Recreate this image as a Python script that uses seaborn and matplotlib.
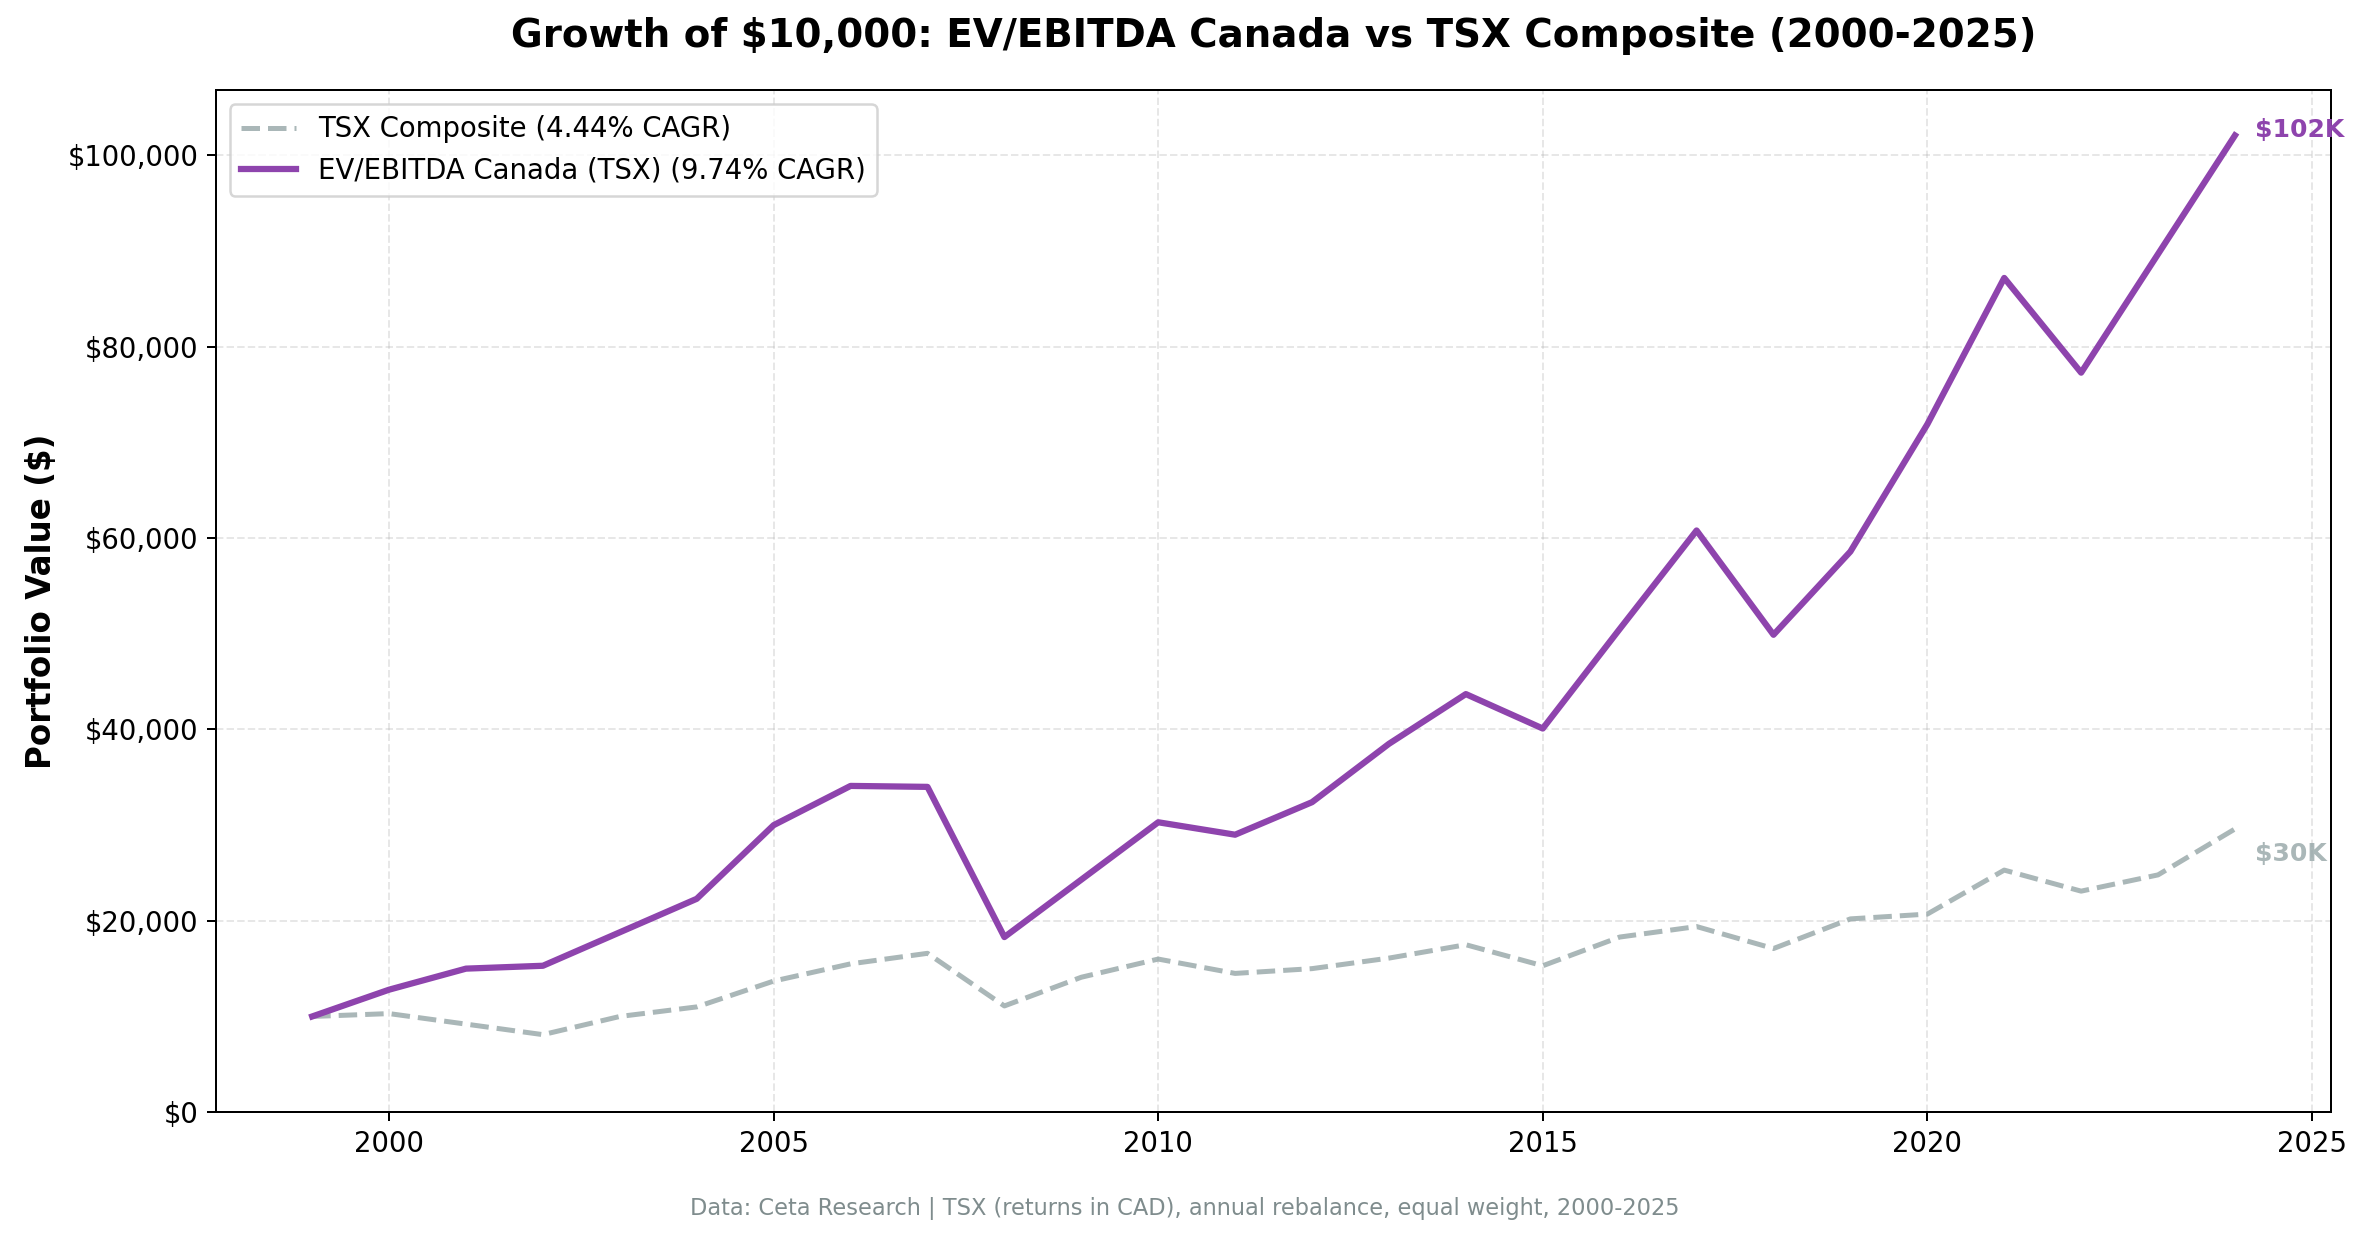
import matplotlib
matplotlib.use("Agg")
import matplotlib.pyplot as plt
import seaborn as sns
import pandas as pd

years = list(range(1999, 2025))
strategy = [10000, 12800, 15000, 15300, 18800, 22300, 30000, 34100, 34000, 18300,
            24300, 30300, 29000, 32400, 38500, 43700, 40100, 50500, 60800, 49900,
            58600, 71900, 87200, 77300, 89700, 102100]
tsx = [10000, 10300, 9200, 8100, 10000, 11000, 13700, 15500, 16600, 11100,
       14100, 16000, 14500, 15000, 16100, 17500, 15300, 18300, 19400, 17100,
       20200, 20700, 25300, 23100, 24800, 29600]

strategy_label = "EV/EBITDA Canada (TSX) (9.74% CAGR)"
tsx_label = "TSX Composite (4.44% CAGR)"
title = "Growth of $10,000: EV/EBITDA Canada vs TSX Composite (2000-2025)"
ylabel = "Portfolio Value ($)"
footnote = "Data: Ceta Research | TSX (returns in CAD), annual rebalance, equal weight, 2000-2025"

purple = "#8E44AD"
gray = "#95A5A6"

df = pd.DataFrame({"year": years, "strategy": strategy, "tsx": tsx})

plt.rcParams['font.family'] = ['DejaVu Sans']
DPI = 180
fig, ax = plt.subplots(figsize=(2369/DPI, 1239/DPI), dpi=DPI)
fig.subplots_adjust(left=0.0912, right=0.984, top=0.927, bottom=0.1024)

sns.lineplot(data=df, x="year", y="tsx", ax=ax, color=gray, linewidth=2,
             linestyle="--", alpha=0.8, label=tsx_label)
sns.lineplot(data=df, x="year", y="strategy", ax=ax, color=purple, linewidth=2.5,
             label=strategy_label)

ax.set_ylim(bottom=0)
ax.yaxis.set_major_formatter(matplotlib.ticker.FuncFormatter(lambda v, p: f"${v:,.0f}"))
ax.grid(True, linestyle="--", alpha=0.3)
ax.set_xlabel("")
ax.set_ylabel(ylabel, fontsize=13, fontweight="bold")
ax.tick_params(labelsize=11)
ax.legend(loc="upper left", fontsize=11)

fig.text(843/1568, 1 - 24/820, title, fontsize=15.5, fontweight="bold",
         ha="center", va="center")

ax.annotate(f"${strategy[-1]/1000:.0f}K", xy=(years[-1], strategy[-1]), xytext=(8, 2),
            textcoords="offset points", fontsize=10, fontweight="bold", color=purple,
            va="center", ha="left", annotation_clip=False)
ax.annotate(f"${tsx[-1]/1000:.0f}K", xy=(years[-1], tsx[-1]), xytext=(8, -10),
            textcoords="offset points", fontsize=10, fontweight="bold", color=gray,
            alpha=0.8, va="center", ha="left", annotation_clip=False)

fig.text(0.5, 0.0244, footnote, ha="center", va="center", fontsize=9, color="#7f8c8d")

fig.savefig("out.png", dpi=DPI)
